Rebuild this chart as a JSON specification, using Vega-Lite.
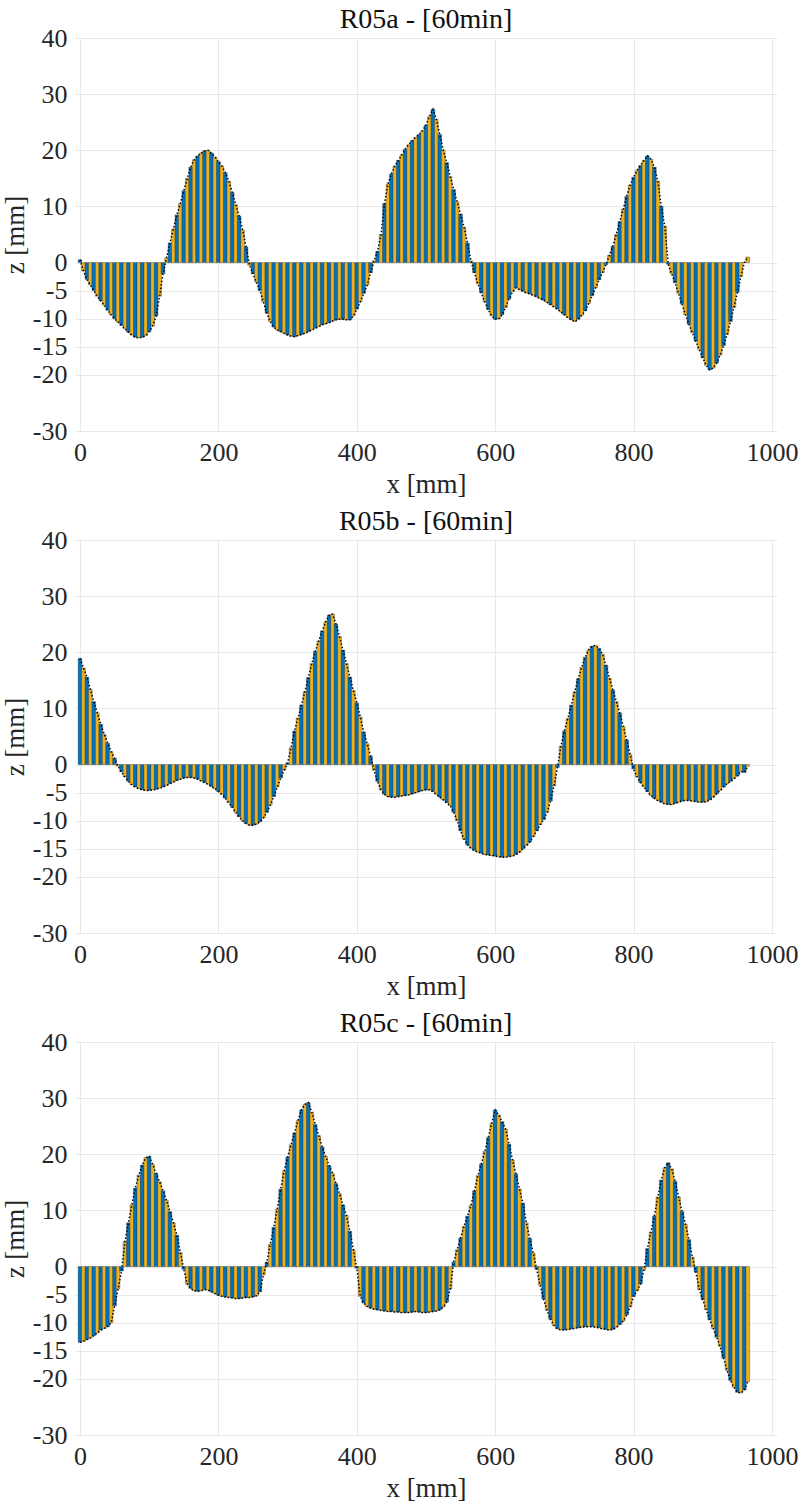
{
  "$schema": "https://vega.github.io/schema/vega-lite/v6.json",
  "background": "white",
  "padding": {"left": 1, "top": 6, "right": 0, "bottom": 0},
  "spacing": 11,
  "config": {
    "font": "Times New Roman, Liberation Serif, DejaVu Serif, serif",
    "view": {"stroke": null},
    "title": {"font": "Times New Roman, Liberation Serif, DejaVu Serif, serif", "fontSize": 28, "fontWeight": "normal", "color": "#111111", "offset": -9, "baseline": "alphabetic"},
    "axis": {
      "labelFont": "Times New Roman, Liberation Serif, DejaVu Serif, serif", "labelFontSize": 26, "labelColor": "#262626",
      "titleFont": "Times New Roman, Liberation Serif, DejaVu Serif, serif", "titleFontSize": 27, "titleFontWeight": "normal", "titleColor": "#262626",
      "grid": true, "gridColor": "#e8e8e8", "gridWidth": 1,
      "domain": false, "ticks": false
    }
  },
  "datasets": {
    "a": [
      {"x":0,"z":0.5},{"x":5,"z":-1.5},{"x":10,"z":-3},{"x":15,"z":-4},{"x":20,"z":-5},{"x":25,"z":-6},{"x":30,"z":-6.8},{"x":35,"z":-7.6},{"x":40,"z":-8.5},{"x":45,"z":-9.3},
      {"x":50,"z":-10},{"x":55,"z":-10.6},{"x":60,"z":-11.2},{"x":65,"z":-11.8},{"x":70,"z":-12.4},{"x":75,"z":-12.9},{"x":80,"z":-13.3},{"x":85,"z":-13.4},{"x":90,"z":-13.3},{"x":95,"z":-13},
      {"x":100,"z":-12.3},{"x":105,"z":-11.3},{"x":110,"z":-9.5},{"x":115,"z":-6},{"x":120,"z":-2},{"x":125,"z":0.8},{"x":130,"z":3.5},{"x":135,"z":6},{"x":140,"z":8.5},{"x":145,"z":10.5},
      {"x":150,"z":12.8},{"x":155,"z":15},{"x":160,"z":17},{"x":165,"z":18.3},{"x":170,"z":19},{"x":175,"z":19.5},{"x":180,"z":19.9},{"x":185,"z":20},{"x":190,"z":19.5},{"x":195,"z":18.8},
      {"x":200,"z":18},{"x":205,"z":17.2},{"x":210,"z":16},{"x":215,"z":14.5},{"x":220,"z":12.5},{"x":225,"z":10.3},{"x":230,"z":8.3},{"x":235,"z":5.8},{"x":240,"z":2.8},{"x":245,"z":-0.5},
      {"x":250,"z":-2},{"x":255,"z":-3.5},{"x":260,"z":-5},{"x":265,"z":-7},{"x":270,"z":-9},{"x":275,"z":-10.5},{"x":280,"z":-11.5},{"x":285,"z":-12},{"x":290,"z":-12.3},{"x":295,"z":-12.6},
      {"x":300,"z":-12.9},{"x":305,"z":-13.1},{"x":310,"z":-13.2},{"x":315,"z":-13},{"x":320,"z":-12.8},{"x":325,"z":-12.6},{"x":330,"z":-12.3},{"x":335,"z":-12},{"x":340,"z":-11.7},{"x":345,"z":-11.4},
      {"x":350,"z":-11.1},{"x":355,"z":-10.9},{"x":360,"z":-10.7},{"x":365,"z":-10.4},{"x":370,"z":-10.2},{"x":375,"z":-10.1},{"x":380,"z":-10.1},{"x":385,"z":-10.2},{"x":390,"z":-10.2},{"x":395,"z":-9.5},
      {"x":400,"z":-8.3},{"x":405,"z":-7},{"x":410,"z":-5.5},{"x":415,"z":-4},{"x":420,"z":-1.8},{"x":425,"z":0.3},{"x":430,"z":2},{"x":435,"z":5},{"x":440,"z":10.5},{"x":445,"z":14},
      {"x":450,"z":15.8},{"x":455,"z":17.2},{"x":460,"z":18.2},{"x":465,"z":19.2},{"x":470,"z":20.2},{"x":475,"z":21},{"x":480,"z":21.7},{"x":485,"z":22.3},{"x":490,"z":22.8},{"x":495,"z":23.5},
      {"x":500,"z":24.5},{"x":505,"z":26},{"x":510,"z":27.3},{"x":515,"z":25.5},{"x":520,"z":22.8},{"x":525,"z":20},{"x":530,"z":17.8},{"x":535,"z":15.3},{"x":540,"z":13},{"x":545,"z":10.8},
      {"x":550,"z":8.6},{"x":555,"z":6.3},{"x":560,"z":3.5},{"x":565,"z":0.3},{"x":570,"z":-1.8},{"x":575,"z":-3.8},{"x":580,"z":-5.4},{"x":585,"z":-7},{"x":590,"z":-8.4},{"x":595,"z":-9.5},
      {"x":600,"z":-10.1},{"x":605,"z":-10},{"x":610,"z":-9.3},{"x":615,"z":-8},{"x":620,"z":-6.5},{"x":625,"z":-5.2},{"x":630,"z":-4.5},{"x":635,"z":-4.8},{"x":640,"z":-5.1},{"x":645,"z":-5.4},
      {"x":650,"z":-5.6},{"x":655,"z":-5.8},{"x":660,"z":-6.1},{"x":665,"z":-6.4},{"x":670,"z":-6.7},{"x":675,"z":-7.1},{"x":680,"z":-7.5},{"x":685,"z":-7.9},{"x":690,"z":-8.3},{"x":695,"z":-8.8},
      {"x":700,"z":-9.3},{"x":705,"z":-9.8},{"x":710,"z":-10.2},{"x":715,"z":-10.5},{"x":720,"z":-10.1},{"x":725,"z":-9.4},{"x":730,"z":-8.6},{"x":735,"z":-7.3},{"x":740,"z":-5.9},{"x":745,"z":-4.5},
      {"x":750,"z":-3.1},{"x":755,"z":-1.8},{"x":760,"z":-0.4},{"x":765,"z":1.3},{"x":770,"z":2.9},{"x":775,"z":5},{"x":780,"z":7.3},{"x":785,"z":9.5},{"x":790,"z":11.8},{"x":795,"z":13.8},
      {"x":800,"z":15.2},{"x":805,"z":16.4},{"x":810,"z":17.3},{"x":815,"z":18.2},{"x":820,"z":19},{"x":825,"z":18.4},{"x":830,"z":17},{"x":835,"z":14.5},{"x":840,"z":10},{"x":845,"z":6.5},
      {"x":850,"z":-0.3},{"x":855,"z":-2},{"x":860,"z":-3.6},{"x":865,"z":-5.5},{"x":870,"z":-7.4},{"x":875,"z":-9.3},{"x":880,"z":-11},{"x":885,"z":-12.5},{"x":890,"z":-14},{"x":895,"z":-15.5},
      {"x":900,"z":-17},{"x":905,"z":-18.3},{"x":910,"z":-19.1},{"x":915,"z":-18.8},{"x":920,"z":-17.9},{"x":925,"z":-16.5},{"x":930,"z":-14.8},{"x":935,"z":-12.8},{"x":940,"z":-10.5},{"x":945,"z":-8},
      {"x":950,"z":-5.3},{"x":955,"z":-2.5},{"x":960,"z":0},{"x":965,"z":1}
    ],
    "b": [
      {"x":0,"z":18.9},{"x":5,"z":17.2},{"x":10,"z":15.6},{"x":15,"z":13.4},{"x":20,"z":11.2},{"x":25,"z":9.2},{"x":30,"z":7.2},{"x":35,"z":5.4},{"x":40,"z":3.8},{"x":45,"z":2.3},
      {"x":50,"z":1.1},{"x":55,"z":-0.3},{"x":60,"z":-1.3},{"x":65,"z":-2.2},{"x":70,"z":-3},{"x":75,"z":-3.6},{"x":80,"z":-4},{"x":85,"z":-4.3},{"x":90,"z":-4.5},{"x":95,"z":-4.6},
      {"x":100,"z":-4.6},{"x":105,"z":-4.5},{"x":110,"z":-4.4},{"x":115,"z":-4.2},{"x":120,"z":-4},{"x":125,"z":-3.7},{"x":130,"z":-3.4},{"x":135,"z":-3.1},{"x":140,"z":-2.8},{"x":145,"z":-2.6},
      {"x":150,"z":-2.4},{"x":155,"z":-2.3},{"x":160,"z":-2.3},{"x":165,"z":-2.4},{"x":170,"z":-2.6},{"x":175,"z":-2.9},{"x":180,"z":-3.2},{"x":185,"z":-3.5},{"x":190,"z":-3.9},{"x":195,"z":-4.3},
      {"x":200,"z":-4.8},{"x":205,"z":-5.3},{"x":210,"z":-6},{"x":215,"z":-6.8},{"x":220,"z":-7.6},{"x":225,"z":-8.5},{"x":230,"z":-9.3},{"x":235,"z":-10},{"x":240,"z":-10.5},{"x":245,"z":-10.8},
      {"x":250,"z":-10.8},{"x":255,"z":-10.6},{"x":260,"z":-10.2},{"x":265,"z":-9.5},{"x":270,"z":-8.5},{"x":275,"z":-7.2},{"x":280,"z":-5.7},{"x":285,"z":-4},{"x":290,"z":-2.4},{"x":295,"z":-1},
      {"x":300,"z":0.3},{"x":305,"z":3},{"x":310,"z":6},{"x":315,"z":8.3},{"x":320,"z":10.6},{"x":325,"z":13},{"x":330,"z":15.5},{"x":335,"z":18},{"x":340,"z":20.2},{"x":345,"z":22},
      {"x":350,"z":23.8},{"x":355,"z":25.4},{"x":360,"z":26.6},{"x":365,"z":26.8},{"x":370,"z":25},{"x":375,"z":22.8},{"x":380,"z":20.4},{"x":385,"z":18},{"x":390,"z":15.6},{"x":395,"z":13.2},
      {"x":400,"z":11},{"x":405,"z":8.5},{"x":410,"z":5.8},{"x":415,"z":3.7},{"x":420,"z":1.5},{"x":425,"z":-1},{"x":430,"z":-3},{"x":435,"z":-4.5},{"x":440,"z":-5.3},{"x":445,"z":-5.7},
      {"x":450,"z":-5.8},{"x":455,"z":-5.8},{"x":460,"z":-5.7},{"x":465,"z":-5.6},{"x":470,"z":-5.5},{"x":475,"z":-5.4},{"x":480,"z":-5.2},{"x":485,"z":-5},{"x":490,"z":-4.8},{"x":495,"z":-4.6},
      {"x":500,"z":-4.5},{"x":505,"z":-4.5},{"x":510,"z":-4.8},{"x":515,"z":-5.3},{"x":520,"z":-5.8},{"x":525,"z":-6.3},{"x":530,"z":-6.8},{"x":535,"z":-7.3},{"x":540,"z":-8.5},{"x":545,"z":-10},
      {"x":550,"z":-11.8},{"x":555,"z":-13.3},{"x":560,"z":-14.3},{"x":565,"z":-14.9},{"x":570,"z":-15.3},{"x":575,"z":-15.6},{"x":580,"z":-15.8},{"x":585,"z":-16},{"x":590,"z":-16.1},{"x":595,"z":-16.2},
      {"x":600,"z":-16.3},{"x":605,"z":-16.4},{"x":610,"z":-16.5},{"x":615,"z":-16.5},{"x":620,"z":-16.4},{"x":625,"z":-16.3},{"x":630,"z":-16},{"x":635,"z":-15.6},{"x":640,"z":-15},{"x":645,"z":-14.4},
      {"x":650,"z":-13.8},{"x":655,"z":-12.8},{"x":660,"z":-11.8},{"x":665,"z":-10.7},{"x":670,"z":-9.8},{"x":675,"z":-8.5},{"x":680,"z":-6.5},{"x":685,"z":-3.8},{"x":690,"z":-0.5},{"x":695,"z":3.3},
      {"x":700,"z":6},{"x":705,"z":8.2},{"x":710,"z":10.6},{"x":715,"z":13},{"x":720,"z":15.3},{"x":725,"z":17.3},{"x":730,"z":19.1},{"x":735,"z":20.4},{"x":740,"z":21.1},{"x":745,"z":21.2},
      {"x":750,"z":20.7},{"x":755,"z":19.7},{"x":760,"z":17.7},{"x":765,"z":15.4},{"x":770,"z":13.3},{"x":775,"z":11.2},{"x":780,"z":9.2},{"x":785,"z":6.8},{"x":790,"z":4.4},{"x":795,"z":1.8},
      {"x":800,"z":-0.8},{"x":805,"z":-2.2},{"x":810,"z":-3.2},{"x":815,"z":-4},{"x":820,"z":-4.8},{"x":825,"z":-5.5},{"x":830,"z":-6},{"x":835,"z":-6.4},{"x":840,"z":-6.7},{"x":845,"z":-7},
      {"x":850,"z":-7.1},{"x":855,"z":-7.1},{"x":860,"z":-6.9},{"x":865,"z":-6.7},{"x":870,"z":-6.5},{"x":875,"z":-6.4},{"x":880,"z":-6.4},{"x":885,"z":-6.5},{"x":890,"z":-6.6},{"x":895,"z":-6.7},
      {"x":900,"z":-6.7},{"x":905,"z":-6.6},{"x":910,"z":-6.3},{"x":915,"z":-5.8},{"x":920,"z":-5.2},{"x":925,"z":-4.6},{"x":930,"z":-4},{"x":935,"z":-3.4},{"x":940,"z":-3},{"x":945,"z":-2.5},
      {"x":950,"z":-2},{"x":955,"z":-1.2},{"x":960,"z":-1.4},{"x":965,"z":-0.3}
    ],
    "c": [
      {"x":0,"z":-13.5},{"x":5,"z":-13.3},{"x":10,"z":-13},{"x":15,"z":-12.7},{"x":20,"z":-12.3},{"x":25,"z":-11.8},{"x":30,"z":-11.3},{"x":35,"z":-11},{"x":40,"z":-10.7},{"x":45,"z":-10},
      {"x":50,"z":-7},{"x":55,"z":-4},{"x":60,"z":-0.8},{"x":65,"z":4.5},{"x":70,"z":7.8},{"x":75,"z":11},{"x":80,"z":14},{"x":85,"z":16.3},{"x":90,"z":18.1},{"x":95,"z":19.4},
      {"x":100,"z":19.6},{"x":105,"z":18.2},{"x":110,"z":16.6},{"x":115,"z":15.1},{"x":120,"z":13.5},{"x":125,"z":11.8},{"x":130,"z":9.8},{"x":135,"z":7.8},{"x":140,"z":5.6},{"x":145,"z":2.5},
      {"x":150,"z":-0.5},{"x":155,"z":-3.1},{"x":160,"z":-3.9},{"x":165,"z":-4.3},{"x":170,"z":-4.4},{"x":175,"z":-4.3},{"x":180,"z":-4.1},{"x":185,"z":-4.2},{"x":190,"z":-4.5},{"x":195,"z":-4.8},
      {"x":200,"z":-5.1},{"x":205,"z":-5.3},{"x":210,"z":-5.4},{"x":215,"z":-5.5},{"x":220,"z":-5.6},{"x":225,"z":-5.7},{"x":230,"z":-5.7},{"x":235,"z":-5.6},{"x":240,"z":-5.5},{"x":245,"z":-5.5},
      {"x":250,"z":-5.4},{"x":255,"z":-5.2},{"x":260,"z":-4.5},{"x":265,"z":-1.5},{"x":270,"z":0.8},{"x":275,"z":4},{"x":280,"z":7},{"x":285,"z":10.2},{"x":290,"z":13.8},{"x":295,"z":17},
      {"x":300,"z":19.5},{"x":305,"z":21.7},{"x":310,"z":23.8},{"x":315,"z":26},{"x":320,"z":27.9},{"x":325,"z":28.9},{"x":330,"z":29.2},{"x":335,"z":27.5},{"x":340,"z":25.3},{"x":345,"z":23.3},
      {"x":350,"z":21.3},{"x":355,"z":19.6},{"x":360,"z":18},{"x":365,"z":16.6},{"x":370,"z":14.8},{"x":375,"z":13},{"x":380,"z":11},{"x":385,"z":9.1},{"x":390,"z":6.3},{"x":395,"z":3},
      {"x":400,"z":-0.3},{"x":405,"z":-5.3},{"x":410,"z":-6.5},{"x":415,"z":-7.1},{"x":420,"z":-7.4},{"x":425,"z":-7.6},{"x":430,"z":-7.7},{"x":435,"z":-7.8},{"x":440,"z":-7.9},{"x":445,"z":-8},
      {"x":450,"z":-8},{"x":455,"z":-8.1},{"x":460,"z":-8.1},{"x":465,"z":-8.2},{"x":470,"z":-8.2},{"x":475,"z":-8.2},{"x":480,"z":-8.1},{"x":485,"z":-8},{"x":490,"z":-8.1},{"x":495,"z":-8.2},
      {"x":500,"z":-8.2},{"x":505,"z":-8.1},{"x":510,"z":-8},{"x":515,"z":-7.9},{"x":520,"z":-7.7},{"x":525,"z":-7.2},{"x":530,"z":-6.3},{"x":535,"z":-4},{"x":540,"z":0.8},{"x":545,"z":3},
      {"x":550,"z":5.1},{"x":555,"z":7.2},{"x":560,"z":9},{"x":565,"z":10.9},{"x":570,"z":13.5},{"x":575,"z":16.2},{"x":580,"z":18.3},{"x":585,"z":20.5},{"x":590,"z":23},{"x":595,"z":25.5},
      {"x":600,"z":27.9},{"x":605,"z":27},{"x":610,"z":25.8},{"x":615,"z":24.5},{"x":620,"z":21.8},{"x":625,"z":19},{"x":630,"z":16.5},{"x":635,"z":13.8},{"x":640,"z":11.3},{"x":645,"z":7.8},
      {"x":650,"z":5},{"x":655,"z":2.4},{"x":660,"z":-0.5},{"x":665,"z":-3.3},{"x":670,"z":-5.8},{"x":675,"z":-7.8},{"x":680,"z":-9.4},{"x":685,"z":-10.5},{"x":690,"z":-11.1},{"x":695,"z":-11.3},
      {"x":700,"z":-11.3},{"x":705,"z":-11.2},{"x":710,"z":-11.1},{"x":715,"z":-11},{"x":720,"z":-10.9},{"x":725,"z":-10.8},{"x":730,"z":-10.7},{"x":735,"z":-10.7},{"x":740,"z":-10.7},{"x":745,"z":-10.8},
      {"x":750,"z":-10.9},{"x":755,"z":-11.1},{"x":760,"z":-11.2},{"x":765,"z":-11.3},{"x":770,"z":-11.2},{"x":775,"z":-10.8},{"x":780,"z":-10.3},{"x":785,"z":-9.7},{"x":790,"z":-8.6},{"x":795,"z":-7.2},
      {"x":800,"z":-5.3},{"x":805,"z":-4.3},{"x":810,"z":-3.1},{"x":815,"z":-0.6},{"x":820,"z":3.2},{"x":825,"z":6.1},{"x":830,"z":9},{"x":835,"z":12.4},{"x":840,"z":15.4},{"x":845,"z":17.6},
      {"x":850,"z":18.5},{"x":855,"z":17.4},{"x":860,"z":15.2},{"x":865,"z":12.4},{"x":870,"z":9.8},{"x":875,"z":7.5},{"x":880,"z":4.8},{"x":885,"z":1.7},{"x":890,"z":-1},{"x":895,"z":-4.1},
      {"x":900,"z":-5.9},{"x":905,"z":-7.7},{"x":910,"z":-9.5},{"x":915,"z":-11},{"x":920,"z":-12.6},{"x":925,"z":-14.2},{"x":930,"z":-16.3},{"x":935,"z":-18.5},{"x":940,"z":-20.3},{"x":945,"z":-21.5},
      {"x":950,"z":-22.4},{"x":955,"z":-22.5},{"x":960,"z":-22},{"x":965,"z":-20.5}
    ]
  },
  "vconcat": [
    {
      "title": "R05a - [60min]",
      "width": 702, "height": 393,
      "data": {"name": "a"},
      "encoding": {
        "x": {"field": "x", "type": "quantitative", "scale": {"domain": [0, 1000], "nice": false}, "axis": {"title": "x [mm]", "values": [0,200,400,600,800,1000], "labelExpr": "'' + datum.value", "labelPadding": 8, "titlePadding": 6}},
        "y": {"field": "z", "type": "quantitative", "scale": {"domain": [-30, 40], "nice": false, "zero": false}, "axis": {"title": "z [mm]", "values": [-30,-20,-15,-10,-5,0,10,20,30,40], "labelExpr": "'' + datum.value", "labelPadding": 8, "titlePadding": 3}}
      },
      "layer": [
        {"mark": {"type": "bar", "orient": "vertical", "size": 3.7, "stroke": "#2a2a2a", "strokeWidth": 0.35}, "encoding": {"color": {"field": "x", "type": "nominal", "scale": {"range": ["#0072BD", "#EDB120"]}, "legend": null}}},
        {"mark": {"type": "line", "color": "#000000", "strokeWidth": 1.5, "strokeDash": [1.5, 2]}, "encoding": {}}
      ]
    },
    {
      "title": "R05b - [60min]",
      "width": 702, "height": 393,
      "data": {"name": "b"},
      "encoding": {
        "x": {"field": "x", "type": "quantitative", "scale": {"domain": [0, 1000], "nice": false}, "axis": {"title": "x [mm]", "values": [0,200,400,600,800,1000], "labelExpr": "'' + datum.value", "labelPadding": 8, "titlePadding": 6}},
        "y": {"field": "z", "type": "quantitative", "scale": {"domain": [-30, 40], "nice": false, "zero": false}, "axis": {"title": "z [mm]", "values": [-30,-20,-15,-10,-5,0,10,20,30,40], "labelExpr": "'' + datum.value", "labelPadding": 8, "titlePadding": 3}}
      },
      "layer": [
        {"mark": {"type": "bar", "orient": "vertical", "size": 3.7, "stroke": "#2a2a2a", "strokeWidth": 0.35}, "encoding": {"color": {"field": "x", "type": "nominal", "scale": {"range": ["#0072BD", "#EDB120"]}, "legend": null}}},
        {"mark": {"type": "line", "color": "#000000", "strokeWidth": 1.5, "strokeDash": [1.5, 2]}, "encoding": {}}
      ]
    },
    {
      "title": "R05c - [60min]",
      "width": 702, "height": 393,
      "data": {"name": "c"},
      "encoding": {
        "x": {"field": "x", "type": "quantitative", "scale": {"domain": [0, 1000], "nice": false}, "axis": {"title": "x [mm]", "values": [0,200,400,600,800,1000], "labelExpr": "'' + datum.value", "labelPadding": 8, "titlePadding": 6}},
        "y": {"field": "z", "type": "quantitative", "scale": {"domain": [-30, 40], "nice": false, "zero": false}, "axis": {"title": "z [mm]", "values": [-30,-20,-15,-10,-5,0,10,20,30,40], "labelExpr": "'' + datum.value", "labelPadding": 8, "titlePadding": 3}}
      },
      "layer": [
        {"mark": {"type": "bar", "orient": "vertical", "size": 3.7, "stroke": "#2a2a2a", "strokeWidth": 0.35}, "encoding": {"color": {"field": "x", "type": "nominal", "scale": {"range": ["#0072BD", "#EDB120"]}, "legend": null}}},
        {"mark": {"type": "line", "color": "#000000", "strokeWidth": 1.5, "strokeDash": [1.5, 2]}, "encoding": {}}
      ]
    }
  ]
}
